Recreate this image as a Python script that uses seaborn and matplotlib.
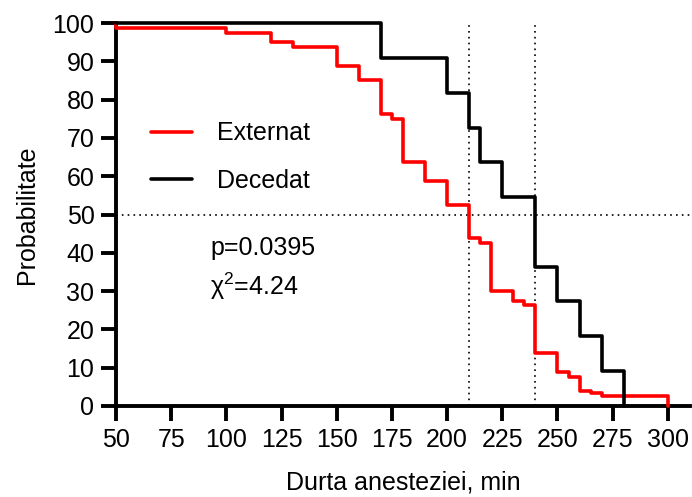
import numpy as np
import pandas as pd
import matplotlib
matplotlib.use("Agg")
import matplotlib.pyplot as plt
import seaborn as sns

# Kaplan-Meier: durata anesteziei (min) vs probabilitate (%)
ext_time = [50, 50, 100, 120, 130, 150, 160, 170, 175, 180, 190, 200, 210,
            215, 220, 230, 235, 240, 250, 255, 260, 265, 270, 300]
ext_prob = [100, 98.75, 97.5, 95.0, 93.75, 88.75, 85.0, 76.25, 75.0, 63.75, 58.75,
            52.5, 43.75, 42.5, 30.0, 27.5, 26.25, 13.75, 8.75, 7.5, 4.0, 3.3, 2.5, 0]

dec_time = [50, 170, 200, 210, 215, 225, 240, 250, 260, 270, 280]
dec_prob = [100, 90.9, 81.8, 72.7, 63.6, 54.5, 36.4, 27.3, 18.2, 9.1, 0]

median_times = [210, 240]
p_text = "p=0.0395"
chi_text = "χ$^{2}$=4.24"

sns.set_style("ticks")
plt.rcParams["font.family"] = ["Liberation Sans", "DejaVu Sans"]
plt.rcParams["mathtext.fontset"] = "custom"
plt.rcParams["mathtext.rm"] = "Liberation Sans"
plt.rcParams["text.color"] = "black"
plt.rcParams["axes.labelcolor"] = "black"

df_ext = pd.DataFrame({"t": ext_time, "p": ext_prob})
df_dec = pd.DataFrame({"t": dec_time, "p": dec_prob})

fig = plt.figure(figsize=(6.92, 4.97), dpi=100)
ax = fig.add_axes([0.1676, 0.1831, 0.8294, 0.7706])

# linii de referinta punctate
dot = (0, (1, 2.5))
ax.axhline(50, color="black", lw=1.2, linestyle=dot, zorder=1)
for t in median_times:
    ax.plot([t, t], [0, 100], color="black", lw=1.2, linestyle=dot, zorder=1)

sns.lineplot(data=df_ext, x="t", y="p", ax=ax, color="#ff0000", lw=2.6,
             drawstyle="steps-post", estimator=None, sort=False,
             label="Externat", clip_on=False, zorder=3)
sns.lineplot(data=df_dec, x="t", y="p", ax=ax, color="black", lw=2.6,
             drawstyle="steps-post", estimator=None, sort=False,
             label="Decedat", clip_on=False, zorder=4)

ax.set_xlim(50, 310)
ax.set_ylim(0, 100)
ax.set_xticks(np.arange(50, 301, 25))
ax.set_yticks(np.arange(0, 101, 10))

for s in ["top", "right"]:
    ax.spines[s].set_visible(False)
for s in ["left", "bottom"]:
    ax.spines[s].set_linewidth(2.8)
    ax.spines[s].set_color("black")
ax.tick_params(axis="both", length=11, width=2.8, labelsize=18, color="black",
               labelcolor="black", pad=4.5)

ax.set_xlabel("Durta anesteziei, min", fontsize=18, labelpad=14)
ax.set_ylabel("Probabilitate", fontsize=18, labelpad=10)

ax.text(92.6, 39.4, p_text, fontsize=18, ha="left", va="baseline")
ax.text(92.6, 29.0, chi_text, fontsize=18, ha="left", va="baseline")

ax.legend(loc="upper left", bbox_to_anchor=(0.218, 0.756),
          bbox_transform=fig.transFigure, frameon=False, fontsize=18,
          handlelength=1.65, handletextpad=1.0, labelspacing=0.95,
          borderpad=0, borderaxespad=0, labelcolor="black")

fig.savefig("out.png", dpi=100)
